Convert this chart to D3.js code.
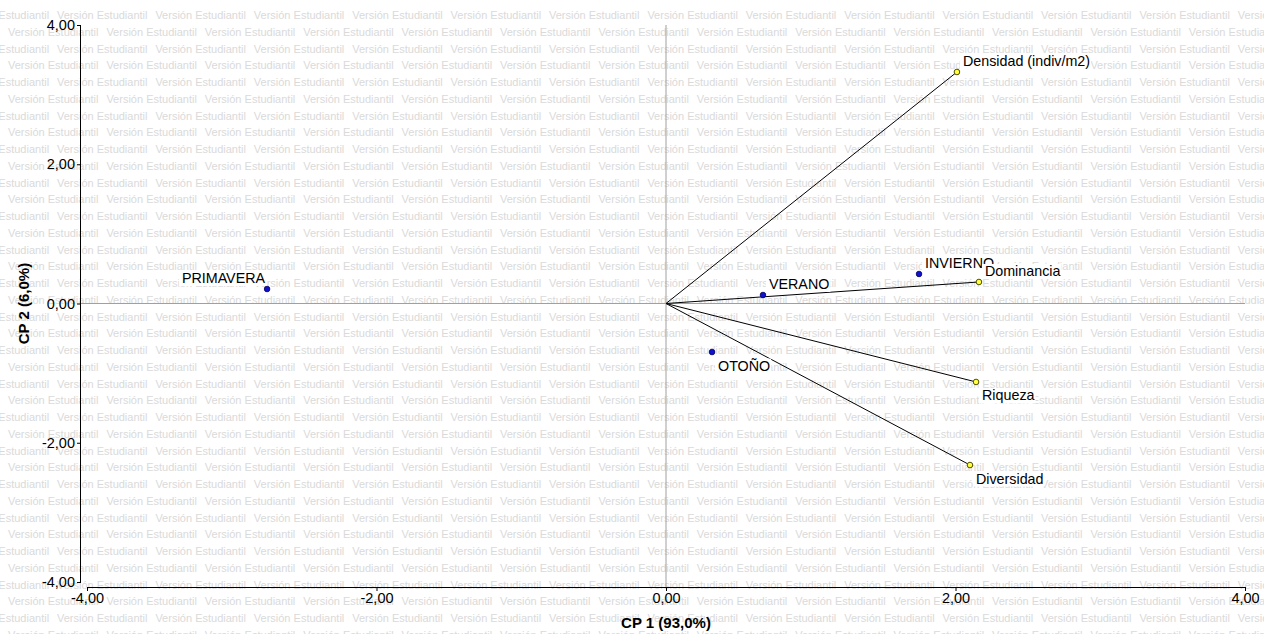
<!DOCTYPE html>
<html><head><meta charset="utf-8">
<script src="https://cdn.jsdelivr.net/npm/d3@7"></script>
<style>body{margin:0;background:#fff}svg{display:block}text{font-family:"Liberation Sans",Arial,sans-serif}</style>
</head><body>
<svg id="c" width="1264" height="634"></svg>
<script>
// Observations (blue points)
const obsNames = ["PRIMAVERA", "VERANO", "INVIERNO", "OTOÑO"];
const obsX = [-2.756, 0.670, 1.748, 0.318];
const obsY = [0.208, 0.122, 0.424, -0.697];
// Variables (vectors, yellow points)
const varNames = ["Densidad (indiv/m2)", "Dominancia", "Riqueza", "Diversidad"];
const varX = [2.010, 2.162, 2.142, 2.100];
const varY = [3.325, 0.309, -1.127, -2.320];
// Ticks
const xTicks = [-4, -2, 0, 2, 4];
const yTicks = [-4, -2, 0, 2, 4];
const xTitle = "CP 1 (93,0%)";
const yTitle = "CP 2 (6,0%)";
const watermark = "Versión Estudiantil";

const W = 1264, H = 634;
const svg = d3.select("#c");
const x = d3.scaleLinear().domain([-4, 4]).range([87, 1245]);
const y = d3.scaleLinear().domain([-4, 4]).range([582, 25]);
const fmt = v => d3.format(".2f")(v).replace(".", ",").replace("−", "-");

// watermark background
const wm = svg.append("g").attr("fill", "#dadada").attr("font-size", 11);
const period = 98.4, rowH = 16.75;
for (let k = 0; k * rowH + 15 - 10 < H; k++) {
  const cy = 15 + k * rowH;
  const off = (k % 2 === 0) ? 57 - period : 8;
  for (let px = off; px < W; px += period) {
    wm.append("text").attr("x", px).attr("y", cy + 4).text(watermark);
  }
}

// zero lines
svg.append("line").attr("x1", 81).attr("x2", x(4)).attr("y1", y(0)).attr("y2", y(0))
  .attr("stroke", "#a0a0a0").attr("stroke-width", 1);
svg.append("line").attr("x1", x(0)).attr("x2", x(0)).attr("y1", y(4)).attr("y2", 587)
  .attr("stroke", "#a0a0a0").attr("stroke-width", 1);

// axes
const yAxis = d3.axisLeft(y).tickValues(yTicks).tickFormat(fmt).tickSize(4).tickPadding(2);
const gy = svg.append("g").attr("transform", "translate(81,0)").call(yAxis);
const xAxis = d3.axisBottom(x).tickValues(xTicks).tickFormat(fmt).tickSize(4).tickPadding(2);
const gx = svg.append("g").attr("transform", "translate(0,587)").call(xAxis);
[gx, gy].forEach(g => {
  g.select(".domain").attr("stroke", "#000");
  g.selectAll(".tick line").attr("stroke", "#000");
  g.selectAll(".tick text").attr("fill", "#000").attr("font-size", 14.5)
    .attr("font-family", '"Liberation Sans",Arial,sans-serif');
});
gy.select(".domain").attr("d", `M-0.5,${y(4)}V${y(-4)}`);
gx.select(".domain").attr("d", `M${x(-4)},0.5H${x(4)}`);

// axis titles
svg.append("text").attr("x", x(0)).attr("y", 628).attr("text-anchor", "middle")
  .attr("font-size", 15).attr("font-weight", "bold").text(xTitle);
svg.append("text").attr("transform", `translate(29,${y(0)}) rotate(-90)`).attr("text-anchor", "middle")
  .attr("font-size", 15).attr("font-weight", "bold").text(yTitle);

// vectors
varNames.forEach((n, i) => {
  svg.append("line").attr("x1", x(0)).attr("y1", y(0)).attr("x2", x(varX[i])).attr("y2", y(varY[i]))
    .attr("stroke", "#000").attr("stroke-width", 1);
});
// points
obsNames.forEach((n, i) => {
  svg.append("circle").attr("cx", x(obsX[i])).attr("cy", y(obsY[i])).attr("r", 2.8)
    .attr("fill", "#1010d0").attr("stroke", "#000060").attr("stroke-width", 0.8);
});
varNames.forEach((n, i) => {
  svg.append("circle").attr("cx", x(varX[i])).attr("cy", y(varY[i])).attr("r", 2.8)
    .attr("fill", "#ffff40").attr("stroke", "#505000").attr("stroke-width", 1);
});

function label(name, vx, vy) {
  const px = x(vx), py = y(vy);
  const g = svg.append("g");
  const t = g.append("text").attr("font-size", 14.3).attr("fill", "#000")
    .attr("x", vx >= 0 ? px + 6 : px - 2)
    .attr("y", vy >= 0 ? py - 6 : py + 18.5)
    .attr("text-anchor", vx >= 0 ? "start" : "end").text(name);
  const b = t.node().getBBox();
  g.insert("rect", "text").attr("x", b.x - 3).attr("y", b.y + 1).attr("width", b.width + 4)
    .attr("height", b.height - 1).attr("fill", "#fff");
}
obsNames.forEach((n, i) => label(n, obsX[i], obsY[i]));
varNames.forEach((n, i) => label(n, varX[i], varY[i]));
</script>
</body></html>
